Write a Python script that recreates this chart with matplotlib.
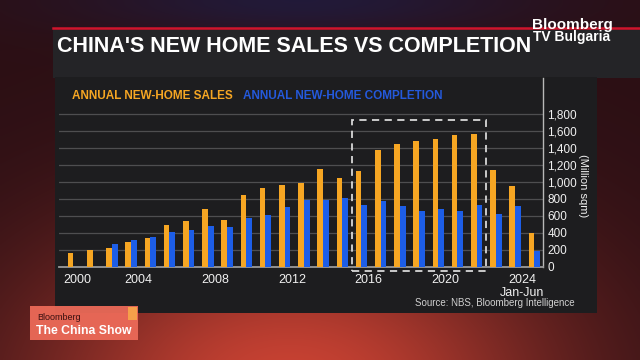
import numpy as np
import matplotlib
matplotlib.use("Agg")
import matplotlib.pyplot as plt
from matplotlib.patches import Rectangle
from matplotlib.ticker import FuncFormatter

plt.rcParams['font.family'] = ['Liberation Sans', 'DejaVu Sans']

# Data (million sqm)
years = list(range(2000, 2025))
sales = [163, 194, 225, 287, 342, 496, 543, 683, 556, 848, 931, 970, 982,
         1156, 1050, 1124, 1376, 1452, 1479, 1503, 1550, 1570, 1144, 947, 399]
completion = [np.nan, np.nan, 267, 318, 349, 407, 430, 477, 473, 576, 612, 710, 789,
              789, 808, 734, 777, 714, 659, 683, 659, 730, 624, 722, 189]
tick_years = [2000, 2004, 2008, 2012, 2016, 2020, 2024]
tick_labels = ['2000', '2004', '2008', '2012', '2016', '2020', '2024\nJan-Jun']
y_ticks = [0, 200, 400, 600, 800, 1000, 1200, 1400, 1600, 1800]
highlight = (2015, 2021)  # dashed box years

ORANGE = '#f6a623'
BLUE = '#1d5ee8'
PANEL = '#1d1d1f'
BAND = '#242427'

W, H = 640, 360


def fx(x):
    return x / W


def fy(y):
    return 1 - y / H


fig = plt.figure(figsize=(6.4, 3.6), dpi=100)

# background (broadcast graphic), pixel coordinates
bg = fig.add_axes([0, 0, 1, 1])
gx, gy = np.meshgrid(np.linspace(0, W, 320), np.linspace(0, H, 180))
base = np.ones((180, 320, 3)) * np.array([0.17, 0.06, 0.08])
glow = np.exp(-((gx - 290) ** 2 / (2 * 190 ** 2) + (gy - 390) ** 2 / (2 * 120 ** 2)))
base += glow[..., None] * np.array([0.62, 0.2, 0.12])
top = np.exp(-((gx - 300) ** 2 / (2 * 160 ** 2) + (gy - 0) ** 2 / (2 * 25 ** 2)))
base += top[..., None] * np.array([-0.04, 0.04, 0.14])
bg.imshow(np.clip(base, 0, 1), extent=[0, W, H, 0], aspect='auto', interpolation='bilinear')
bg.set_xlim(0, W)
bg.set_ylim(H, 0)
bg.axis('off')

bg.add_patch(Rectangle((53, 28), W - 53, 50, color=BAND, lw=0))
bg.add_patch(Rectangle((55, 77), 542, 236, color=PANEL, lw=0))
bg.plot([53, W], [28, 28], color='#d0142c', lw=1.8)

# badge
bg.add_patch(Rectangle((30, 306), 108, 34, color='#ec6a58', lw=0, alpha=0.95))
bg.add_patch(Rectangle((128, 307), 9, 13, color='#f5a04a', lw=0))

# chart
ax = fig.add_axes([fx(59), fy(266.7), fx(543.3 - 59), (266.7 - 78) / H])
ax.patch.set_alpha(0)
x = np.arange(len(years))
ax.bar(x - 0.15, sales, 0.3, color=ORANGE, zorder=3)
ax.bar(x + 0.15, completion, 0.3, color=BLUE, zorder=3)

ax.set_xlim(-0.755, 24.47)
ax.set_ylim(0, 2227)
ax.set_yticks(y_ticks)
ax.yaxis.tick_right()
ax.yaxis.set_major_formatter(FuncFormatter(lambda v, p: f'{int(v):,}'))
ax.grid(axis='y', color='#4e4e50', lw=0.9, zorder=0)
ax.set_axisbelow(True)

# tick labels sit left of the bar group; the first one is nudged inside
tick_pos = [years.index(t) - 0.62 for t in tick_years]
tick_pos[0] = 0.22
ax.set_xticks(tick_pos)
ax.set_xticklabels(tick_labels)
ax.tick_params(axis='both', length=0, colors='#f0f0f0')
ax.tick_params(axis='x', labelsize=9, pad=5)
ax.tick_params(axis='y', labelsize=8.5, pad=3)

for s in ['top', 'left']:
    ax.spines[s].set_visible(False)
ax.spines['right'].set_color('#b8b8b8')
ax.spines['right'].set_linewidth(1)
ax.spines['bottom'].set_color('#9a9a9a')
ax.spines['bottom'].set_linewidth(1.3)

x0 = years.index(highlight[0]) - 0.51
x1 = years.index(highlight[1]) + 0.47
ax.add_patch(Rectangle((x0, -50), x1 - x0, 1780, fill=False, ec='#d8d8d8',
                       lw=1.3, ls=(0, (4, 3)), clip_on=False, zorder=4))

# texts
fig.text(fx(57), fy(52), "CHINA'S NEW HOME SALES VS COMPLETION", color='white',
         fontsize=15.5, fontweight='bold', va='baseline')
fig.text(fx(532), fy(28.5), 'Bloomberg', color='white', fontsize=11,
         fontweight='bold', va='baseline')
fig.text(fx(533), fy(41), 'TV Bulgaria', color='white', fontsize=10,
         fontweight='bold', va='baseline')
fig.text(fx(71.7), fy(99.3), 'ANNUAL NEW-HOME SALES', color=ORANGE,
         fontsize=8.5, fontweight='bold', va='baseline')
fig.text(fx(243), fy(99.3), 'ANNUAL NEW-HOME COMPLETION', color='#2459dc',
         fontsize=8.5, fontweight='bold', va='baseline')
fig.text(fx(583), fy(186), '(Million sqm)', color='#f0f0f0', fontsize=8,
         rotation=270, ha='center', va='center')
fig.text(fx(575), fy(303), 'Source: NBS, Bloomberg Intelligence', color='#d0d0d0',
         fontsize=7, ha='right', va='center')
fig.text(fx(37), fy(320), 'Bloomberg', color='#3a1010', fontsize=6.5, va='baseline')
fig.text(fx(36), fy(334), 'The China Show', color='white', fontsize=8.8,
         fontweight='bold', va='baseline')

fig.savefig('out.png', dpi=100)
